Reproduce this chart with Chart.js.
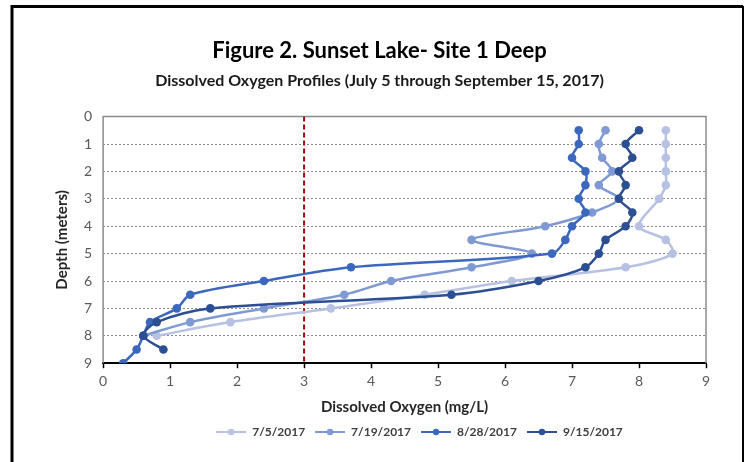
<!DOCTYPE html>
<html>
<head>
<meta charset="utf-8">
<script src="https://cdn.jsdelivr.net/npm/chart.js@4/dist/chart.umd.min.js"></script>
<style>
  html, body { margin: 0; padding: 0; background: #fff; }
  #wrap { width: 748px; height: 462px; position: relative; }
</style>
</head>
<body>
<div id="wrap"><canvas id="chart" width="748" height="462"></canvas></div>
<script>
// Depth (m) and dissolved oxygen (mg/L) readings per sampling date
const seriesLabels = ['7/5/2017', '7/19/2017', '8/28/2017', '9/15/2017'];
const seriesColors = ['#b7c1e2', '#7f99d3', '#3b68bd', '#2c4e92'];

const depth0705 = [0.5, 1, 1.5, 2, 2.5, 3, 4, 4.5, 5, 5.5, 6, 6.5, 7, 7.5, 8];
const oxy0705   = [8.4, 8.4, 8.4, 8.4, 8.4, 8.3, 8.0, 8.4, 8.5, 7.8, 6.1, 4.8, 3.4, 1.9, 0.8];

const depth0719 = [0.5, 1, 1.5, 2, 2.5, 3, 3.5, 4, 4.5, 5, 5.5, 6, 6.5, 7, 7.5, 8];
const oxy0719   = [7.5, 7.4, 7.45, 7.6, 7.4, 7.7, 7.3, 6.6, 5.5, 6.4, 5.5, 4.3, 3.6, 2.4, 1.3, 0.6];

const depth0828 = [0.5, 1, 1.5, 2, 2.5, 3, 3.5, 4, 4.5, 5, 5.5, 6, 6.5, 7, 7.5, 8, 8.5, 9];
const oxy0828   = [7.1, 7.1, 7.0, 7.2, 7.2, 7.1, 7.2, 7.0, 6.9, 6.7, 3.7, 2.4, 1.3, 1.1, 0.7, 0.6, 0.5, 0.3];

const depth0915 = [0.5, 1, 1.5, 2, 2.5, 3, 3.5, 4, 4.5, 5, 5.5, 6, 6.5, 7, 7.5, 8, 8.5];
const oxy0915   = [8.0, 7.8, 7.9, 7.7, 7.8, 7.7, 7.9, 7.8, 7.5, 7.4, 7.2, 6.5, 5.2, 1.6, 0.8, 0.6, 0.9];

// 3 mg/L threshold line
const thresholdX = [3, 3];
const thresholdY = [0, 9];

const xTicks = [0, 1, 2, 3, 4, 5, 6, 7, 8, 9];
const yTicks = [0, 1, 2, 3, 4, 5, 6, 7, 8, 9];

const depths = [depth0705, depth0719, depth0828, depth0915];
const oxygen = [oxy0705, oxy0719, oxy0828, oxy0915];

const toPoints = (xs, ys) => xs.map((x, i) => ({ x: x, y: ys[i] }));

// legend swatch: short line with a dot in the middle
const makeSwatch = (color) => {
    const c = document.createElement('canvas');
    c.width = 30; c.height = 10;
    const g = c.getContext('2d');
    g.strokeStyle = color; g.lineWidth = 2;
    g.beginPath(); g.moveTo(0, 5); g.lineTo(30, 5); g.stroke();
    g.fillStyle = color;
    g.beginPath(); g.arc(15, 5, 3.2, 0, Math.PI * 2); g.fill();
    return c;
};

const datasets = seriesLabels.map((label, i) => ({
    label: label,
    data: toPoints(oxygen[i], depths[i]),
    borderColor: seriesColors[i],
    backgroundColor: seriesColors[i],
    borderWidth: 2.5,
    pointRadius: 4.3,
    pointHoverRadius: 4.3,
    pointBorderWidth: 0,
    tension: 0.3,
    showLine: true,
    order: 4 - i
}));

datasets.push({
    label: 'threshold',
    data: toPoints(thresholdX, thresholdY),
    borderColor: '#b00000',
    borderWidth: 2,
    borderDash: [5, 3],
    pointRadius: 0,
    showLine: true,
    order: 10
});

// outer frame, plot box, and legend nudge (legend sits right of centre in the original)
const framePlugin = {
    id: 'frame',
    afterLayout(chart) {
        if (chart.legend) {
            chart.legend.left += 40;
            chart.legend.right += 40;
        }
    },
    beforeDatasetsDraw(chart) {
        const { ctx, chartArea: a } = chart;
        ctx.save();
        ctx.strokeStyle = '#8c8c8c';
        ctx.lineWidth = 1.5;
        ctx.beginPath();
        ctx.moveTo(a.left, a.bottom);
        ctx.lineTo(a.left, a.top);
        ctx.lineTo(a.right, a.top);
        ctx.lineTo(a.right, a.bottom);
        ctx.stroke();
        ctx.restore();
    },
    afterDraw(chart) {
        const ctx = chart.ctx;
        ctx.save();
        ctx.strokeStyle = '#000';
        ctx.lineWidth = 3;
        ctx.beginPath();
        ctx.moveTo(12, 462);
        ctx.lineTo(12, 6.5);
        ctx.lineTo(743, 6.5);
        ctx.stroke();
        ctx.lineWidth = 2;
        ctx.beginPath();
        ctx.moveTo(743, 6);
        ctx.lineTo(743, 462);
        ctx.stroke();
        ctx.restore();
    }
};

const ctx = document.getElementById('chart').getContext('2d');
new Chart(ctx, {
    type: 'scatter',
    data: { datasets: datasets },
    plugins: [framePlugin],
    options: {
        responsive: false,
        animation: false,
        layout: { padding: { left: 53, right: 42, top: 0, bottom: 14 } },
        plugins: {
            title: {
                display: true,
                text: 'Figure 2. Sunset Lake- Site 1 Deep',
                color: '#000',
                font: { family: 'Lato', size: 22, weight: 'bold' },
                padding: { top: 38, bottom: 3 }
            },
            subtitle: {
                display: true,
                text: 'Dissolved Oxygen Profiles (July 5 through September 15, 2017)',
                color: '#1a1a1a',
                font: { family: 'Lato', size: 16, weight: 'bold' },
                padding: { top: 4, bottom: 26 }
            },
            legend: {
                position: 'bottom',
                labels: {
                    usePointStyle: true,
                    pointStyleWidth: 30,
                    padding: 10,
                    color: '#404040',
                    font: { family: 'Lato', size: 12, weight: 'bold' },
                    filter: (item) => item.text !== 'threshold',
                    sort: (a, b) => a.datasetIndex - b.datasetIndex,
                    generateLabels: (chart) => {
                        const items = Chart.defaults.plugins.legend.labels.generateLabels(chart);
                        items.forEach(it => {
                            const c = seriesColors[it.datasetIndex];
                            if (c) it.pointStyle = makeSwatch(c);
                        });
                        return items;
                    }
                }
            },
            tooltip: { enabled: false }
        },
        scales: {
            x: {
                type: 'linear',
                min: 0,
                max: 9,
                afterBuildTicks: (axis) => { axis.ticks = xTicks.map(v => ({ value: v })); },
                ticks: {
                    color: '#595959',
                    padding: 5,
                    font: { family: 'Lato', size: 14 }
                },
                grid: {
                    display: true,
                    drawOnChartArea: false,
                    drawTicks: true,
                    tickLength: 5,
                    tickColor: '#000',
                    tickWidth: 1.5
                },
                border: { display: true, color: '#000', width: 2 },
                title: {
                    display: true,
                    text: 'Dissolved Oxygen (mg/L)',
                    color: '#262626',
                    font: { family: 'Lato', size: 15, weight: 'bold' },
                    padding: { top: 3, bottom: 0 }
                }
            },
            y: {
                type: 'linear',
                min: 0,
                max: 9,
                reverse: true,
                afterBuildTicks: (axis) => { axis.ticks = yTicks.map(v => ({ value: v })); },
                ticks: {
                    color: '#595959',
                    padding: 11,
                    font: { family: 'Lato', size: 14 }
                },
                grid: {
                    drawTicks: false,
                    lineWidth: 1,
                    color: (c) => (c.tick && (c.tick.value === 0 || c.tick.value === 9)) ? 'rgba(0,0,0,0)' : '#8a8a8a'
                },
                border: { display: false, dash: [2, 2] },
                title: {
                    display: true,
                    text: 'Depth (meters)',
                    color: '#262626',
                    font: { family: 'Lato', size: 15, weight: 'bold' },
                    padding: { top: 0, bottom: 2 }
                }
            }
        }
    }
});
</script>
</body>
</html>
